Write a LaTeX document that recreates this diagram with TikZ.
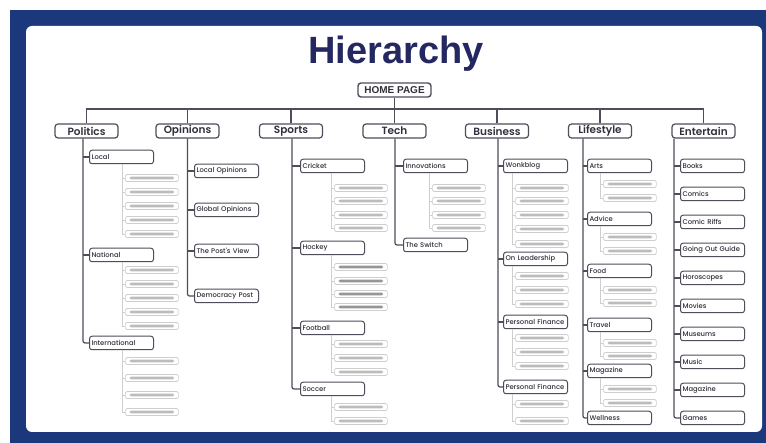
\documentclass[tikz,border=0pt]{standalone}
\usepackage{fontspec}
\setmainfont{Poppins}
\newfontfamily\titlefont{Liberation Sans}
\newfontfamily\toplabelfont{Poppins SemiBold}
\newfontfamily\sublabelfont{Poppins Medium}
\usetikzlibrary{calc}

\definecolor{framebg}{RGB}{28,56,124}
\definecolor{titleblue}{RGB}{36,39,96}
\definecolor{linec}{RGB}{78,78,90}
\definecolor{textc}{RGB}{48,48,60}
\definecolor{ghostline}{RGB}{206,206,206}
\definecolor{ghostbar}{RGB}{188,188,188}
\definecolor{ghostdark}{RGB}{150,150,150}

\tikzset{
  topbox/.style={draw=linec, line width=1.2pt, rounded corners=3pt, fill=white,
    minimum width=63pt, minimum height=14pt, inner sep=0pt, text=textc,
    font=\toplabelfont\fontsize{10.5}{12}\selectfont},
  subbox/.style={draw=linec, line width=1pt, rounded corners=2.5pt, fill=white,
    anchor=west, text width=60pt, inner xsep=2pt, inner ysep=0pt,
    minimum height=13.5pt, align=left, text=textc,
    font=\sublabelfont\fontsize{6.8}{8}\selectfont},
  ghostbox/.style={draw=ghostline, line width=0.7pt, rounded corners=1.5pt,
    fill=white, anchor=west, minimum width=53pt, minimum height=7pt, inner sep=0pt,
    path picture={\fill[#1] ($(path picture bounding box.south west)+(4pt,2.2pt)$)
      rectangle ($(path picture bounding box.north east)+(-4pt,-2.2pt)$);}},
  ghostbox/.default=ghostbar,
  trunk/.style={draw=linec, line width=1.2pt, rounded corners=2pt},
  twig/.style={draw=ghostline, line width=0.7pt},
}

\begin{document}
\begin{tikzpicture}[x=1pt, y=-1pt]
  % 1. 背景与边框
  \useasboundingbox (0,0) rectangle (766,443);
  \fill[framebg] (10,10) rectangle (766,443);
  \fill[white, rounded corners=6pt] (26,26) rectangle (762,432);

  % 2. 标题与首页
  \node[font=\titlefont\bfseries\fontsize{38}{40}\selectfont, text=titleblue, anchor=base]
    (title) at (396,64) {Hierarchy};
  \node[draw=linec, line width=1.4pt, rounded corners=3pt, minimum width=73pt,
    minimum height=14pt, inner sep=0pt, text=textc,
    font=\titlefont\bfseries\fontsize{10}{11}\selectfont] (home) at (394.5,90) {HOME PAGE};

  % 3. 一级栏目
  \foreach \n/\x/\t in {pol/86.5/Politics, opi/187.5/Opinions, spo/291/Sports,
      tec/394.5/Tech, bus/497/Business, lif/600/Lifestyle, ent/703.5/Entertain}
    \node[topbox] (\n) at (\x,131) {\t};
  \coordinate (hub) at (394.5,109);
  \draw[trunk] (home) -- (hub);
  \draw[trunk, rounded corners=0pt] (pol.north) -- (pol.north |- hub) -- (ent.north |- hub) -- (ent.north);
  \foreach \n in {opi,spo,tec,bus,lif}
    \draw[trunk] (\n.north) -- (\n.north |- hub);

  % 4. 二级栏目（Politics）
  \coordinate (t-pol) at ([xshift=-3.5pt]pol.south);
  \foreach \n/\y/\t in {locl/157/Local, natl/255/National, intl/343/International}
    \node[subbox] (\n) at (89,\y) {\t};
  \draw[trunk] (t-pol) |- (intl.west);
  \foreach \n in {locl,natl} \draw[trunk] (\n.west) -- (\n.west -| t-pol);

  % Opinions
  \coordinate (t-opi) at (opi.south);
  \foreach \n/\y/\t in {lopi/171/Local Opinions, gopi/210/Global Opinions,
      view/251/The Post's View, demo/296/Democracy Post}
    \node[subbox] (\n) at (194,\y) {\t};
  \draw[trunk] (t-opi) |- (demo.west);
  \foreach \n in {lopi,gopi,view} \draw[trunk] (\n.west) -- (\n.west -| t-opi);

  % Sports
  \coordinate (t-spo) at ([xshift=1pt]spo.south);
  \foreach \n/\y/\t in {cric/166/Cricket, hock/248/Hockey, foot/328/Football, socc/389/Soccer}
    \node[subbox] (\n) at (300,\y) {\t};
  \draw[trunk] (t-spo) |- (socc.west);
  \foreach \n in {cric,hock,foot} \draw[trunk] (\n.west) -- (\n.west -| t-spo);

  % Tech
  \coordinate (t-tec) at ([xshift=0.5pt]tec.south);
  \foreach \n/\y/\t in {inno/166/Innovations, swit/245/The Switch}
    \node[subbox] (\n) at (403,\y) {\t};
  \draw[trunk] (t-tec) |- (swit.west);
  \draw[trunk] (inno.west) -- (inno.west -| t-tec);

  % Business
  \coordinate (t-bus) at ([xshift=1pt]bus.south);
  \foreach \n/\y/\t in {work/166/Wonkblog, lead/259/On Leadership,
      pfa/322/Personal Finance, pfb/387/Personal Finance}
    \node[subbox] (\n) at (503,\y) {\t};
  \draw[trunk] (t-bus) |- (pfb.west);
  \foreach \n in {work,lead,pfa} \draw[trunk] (\n.west) -- (\n.west -| t-bus);

  % Lifestyle
  \coordinate (t-lif) at ([xshift=-17pt]lif.south);
  \foreach \n/\y/\t in {arts/166/Arts, advi/219/Advice, food/271/Food,
      trav/325/Travel, maga/371/Magazine, well/418/Wellness}
    \node[subbox] (\n) at (587,\y) {\t};
  \draw[trunk] (t-lif) |- (well.west);
  \foreach \n in {arts,advi,food,trav,maga} \draw[trunk] (\n.west) -- (\n.west -| t-lif);

  % Entertain
  \coordinate (t-ent) at ([xshift=-29.5pt]ent.south);
  \foreach \n/\y/\t in {book/166/Books, comi/194/Comics, riff/222/Comic Riffs,
      goin/250/Going Out Guide, horo/278/Horoscopes, movi/306/Movies,
      muse/334/Museums, musi/362/Music, emag/390/Magazine, game/418/Games}
    \node[subbox] (\n) at (680,\y) {\t};
  \draw[trunk] (t-ent) |- (game.west);
  \foreach \n in {book,comi,riff,goin,horo,movi,muse,musi,emag}
    \draw[trunk] (\n.west) -- (\n.west -| t-ent);

  % 5. 三级占位条
  \foreach \p/\sx/\ys/\last/\st in {
      locl/122/{178,192,206,220,234}/234/ghostbar,
      natl/122/{270,284,298,312,326}/326/ghostbar,
      intl/122/{361,378,395,412}/412/ghostbar,
      cric/331/{188,201,215,228}/228/ghostbar,
      hock/331/{267,281,294,307}/307/ghostdark,
      foot/331/{344,358,372}/372/ghostbar,
      socc/331/{407,421}/421/ghostbar,
      inno/429/{188,201,215,228}/228/ghostbar,
      work/512/{188,201,215,229,244}/244/ghostbar,
      lead/512/{276,290,304}/304/ghostbar,
      pfa/512/{338,352,366}/366/ghostbar,
      pfb/512/{404,421}/421/ghostbar,
      arts/600/{184,198}/198/ghostbar,
      advi/600/{237,251}/251/ghostbar,
      food/600/{290,303}/303/ghostbar,
      trav/600/{343,356}/356/ghostbar,
      maga/600/{389,403}/403/ghostbar} {
    \coordinate (s-\p) at (\sx,0);
    \foreach \gy in \ys {
      \node[ghostbox=\st] (g-\p-\gy) at (\sx+3,\gy) {};
      \draw[twig] (g-\p-\gy.west) -- (g-\p-\gy.west -| s-\p);
    }
    \draw[twig] (\p.south -| s-\p) -- (g-\p-\last.west -| s-\p);
  }
\end{tikzpicture}
\end{document}
